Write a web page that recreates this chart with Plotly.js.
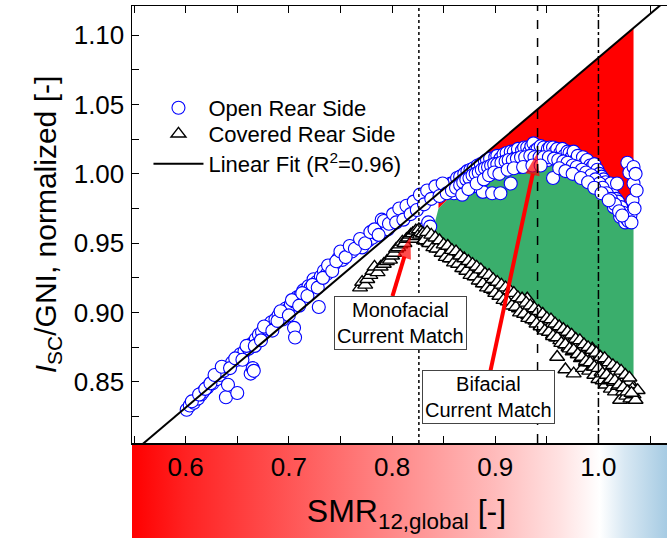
<!DOCTYPE html>
<html>
<head>
<meta charset="utf-8">
<script src="https://cdn.plot.ly/plotly-3.0.1.min.js"></script>
<style>
html,body{margin:0;padding:0;overflow:hidden;background:#fff;}
#chart{width:690px;height:538px;}
</style>
</head>
<body>
<div id="chart"></div>
<script>
// ---- data ----
const openRear = [
[0.601,0.830],[0.604,0.833],[0.608,0.835],[0.612,0.838],[0.615,0.841],[0.617,0.843],[0.621,0.846],[0.626,0.849],[0.630,0.852],[0.633,0.855],
[0.637,0.858],[0.639,0.839],[0.641,0.848],[0.645,0.864],[0.650,0.842],[0.650,0.866],[0.653,0.870],[0.657,0.872],[0.661,0.874],[0.663,0.856],
[0.665,0.860],[0.666,0.858],[0.665,0.878],[0.668,0.881],[0.671,0.884],[0.674,0.886],[0.678,0.889],[0.681,0.891],[0.683,0.893],[0.687,0.895],
[0.690,0.898],[0.694,0.895],[0.697,0.903],[0.699,0.902],[0.702,0.906],[0.705,0.889],[0.706,0.882],[0.705,0.908],[0.708,0.911],[0.711,0.912],
[0.714,0.916],[0.716,0.915],[0.719,0.919],[0.721,0.918],[0.724,0.924],[0.727,0.922],[0.729,0.904],[0.731,0.926],[0.734,0.930],[0.737,0.928],
[0.740,0.933],[0.744,0.935],[0.748,0.939],[0.752,0.938],[0.757,0.943],[0.761,0.944],[0.767,0.948],[0.771,0.947],[0.777,0.952],[0.781,0.954],
[0.785,0.957],[0.790,0.962],[0.790,0.967],[0.793,0.959],[0.796,0.960],[0.799,0.965],[0.802,0.967],[0.806,0.969],[0.809,0.972],[0.812,0.970],
[0.816,0.973],[0.819,0.975],[0.822,0.977],[0.825,0.980],[0.828,0.981],[0.830,0.960],[0.832,0.982],[0.835,0.965],[0.835,0.984],[0.837,0.962],
[0.840,0.986],[0.843,0.988],[0.847,0.988],[0.850,0.990],[0.854,0.991],[0.857,0.993],[0.860,0.986],[0.860,0.994],[0.863,0.997],[0.866,0.998],
[0.870,1.000],[0.873,1.002],[0.876,1.003],[0.879,0.991],[0.879,1.004],[0.883,1.006],[0.886,1.007],[0.888,0.987],[0.890,1.009],[0.892,1.010],
[0.895,1.011],[0.897,0.986],[0.900,1.012],[0.902,1.013],[0.905,0.986],[0.905,1.011],[0.908,1.003],[0.908,1.014],[0.911,1.015],[0.915,0.993],
[0.915,1.016],[0.918,1.016],[0.920,1.012],[0.922,1.018],[0.924,1.005],[0.926,1.017],[0.928,1.019],[0.931,1.008],[0.931,1.019],[0.933,1.016],
[0.935,1.020],[0.937,1.022],[0.939,1.017],[0.941,1.018],[0.944,1.020],[0.947,1.019],[0.949,1.014],[0.951,1.010],[0.951,1.018],[0.953,1.019],
[0.956,0.997],[0.956,1.019],[0.958,1.016],[0.960,1.018],[0.963,1.015],[0.965,1.018],[0.967,1.013],[0.970,1.008],[0.970,1.016],[0.972,1.015],
[0.974,1.012],[0.976,1.016],[0.978,1.010],[0.980,1.003],[0.980,1.013],[0.982,1.003],[0.985,1.012],[0.987,1.008],[0.989,1.010],[0.992,0.998],
[0.992,1.006],[0.994,1.005],[0.996,1.007],[0.999,1.003],[1.001,1.000],[1.002,0.993],[1.003,0.998],[1.005,0.996],[1.007,0.994],[1.009,0.988],
[1.011,0.991],[1.012,0.993],[1.014,0.985],[1.015,0.976],[1.017,0.982],[1.018,0.993],[1.019,0.980],[1.021,0.969],[1.022,0.976],[1.024,0.972],
[1.026,0.965],[1.027,0.968],[1.028,1.008],[1.029,0.966],[1.030,1.001],[1.031,0.970],[1.032,0.965],[1.033,0.981],[1.034,0.993],[1.034,1.005],
[1.035,0.975],[1.036,1.000],[1.037,0.988],
[0.606,0.836],[0.613,0.841],[0.619,0.845],[0.624,0.849],[0.628,0.855],[0.635,0.861],[0.643,0.860],[0.648,0.867],[0.655,0.866],[0.659,0.876],
[0.667,0.876],[0.673,0.880],[0.676,0.890],[0.684,0.887],[0.689,0.894],[0.692,0.901],[0.700,0.898],[0.703,0.909],[0.710,0.905],[0.713,0.914],
[0.718,0.912],[0.723,0.920],[0.728,0.918],[0.733,0.925],[0.738,0.934],[0.742,0.930],[0.746,0.937],[0.750,0.944],[0.755,0.940],[0.759,0.948],
[0.764,0.946],[0.769,0.953],[0.774,0.950],[0.779,0.958],[0.783,0.960],[0.787,0.956],[0.792,0.966],[0.797,0.964],[0.801,0.971],[0.804,0.965],
[0.807,0.975],[0.811,0.967],[0.814,0.977],[0.818,0.971],[0.821,0.980],[0.824,0.974],[0.827,0.985],[0.831,0.978],[0.834,0.988],[0.838,0.982],
[0.842,0.991],[0.846,0.984],[0.849,0.993],[0.853,0.986],
[0.858,0.988],[0.862,0.990],[0.866,0.992],[0.869,0.994],[0.872,0.996],[0.875,0.997],[0.878,0.999],[0.881,1.000],[0.884,1.001],[0.887,1.003],
[0.890,1.004],[0.893,1.005],[0.896,1.006],[0.899,1.007],[0.902,1.007],[0.906,1.008],[0.910,1.009],[0.913,1.010],[0.917,1.010],[0.921,1.011],
[0.925,1.012],[0.929,1.012],[0.934,1.013],[0.938,1.012],[0.943,1.012],[0.947,1.012],[0.952,1.012],[0.957,1.011],[0.961,1.010],[0.966,1.009],
[0.970,1.008],[0.975,1.006],[0.979,1.005],[0.984,1.003],[0.988,1.001],[0.993,0.999],[0.997,0.996],[1.001,0.993],[1.004,0.990],[1.008,0.986],
[1.012,0.982],[1.016,0.978],[1.020,0.973],[1.023,0.970],
[0.868,0.985],[0.874,0.989],[0.882,0.993],[0.889,0.996],[0.894,0.999],[0.899,1.001],[0.904,1.000],[0.912,1.003],[0.918,1.004],[0.927,1.005],
[0.936,1.006],[0.944,1.006],[0.962,1.004],[0.968,1.002],[0.975,1.000],[0.983,0.997],[0.990,0.994],[0.996,0.990],[1.003,0.986],[1.010,0.981]
];
const coveredRear = [
[0.769,0.918],[0.771,0.922],[0.774,0.920],[0.776,0.924],[0.779,0.927],[0.781,0.930],[0.783,0.933],[0.786,0.929],[0.789,0.933],[0.792,0.935],
[0.795,0.937],[0.798,0.938],[0.800,0.941],[0.802,0.943],[0.804,0.946],[0.806,0.947],[0.808,0.949],[0.810,0.951],[0.812,0.950],[0.814,0.953],
[0.816,0.954],[0.818,0.956],[0.820,0.957],[0.821,0.953],[0.823,0.959],[0.824,0.955],[0.826,0.960],[0.827,0.956],[0.828,0.958],
[0.830,0.957],[0.832,0.953],[0.833,0.956],[0.835,0.951],[0.836,0.955],[0.839,0.950],[0.840,0.953],[0.842,0.948],[0.845,0.950],[0.846,0.946],
[0.848,0.948],[0.851,0.943],[0.852,0.946],[0.854,0.942],[0.857,0.944],[0.858,0.939],[0.860,0.942],[0.863,0.937],[0.864,0.940],[0.866,0.935],
[0.869,0.937],[0.870,0.932],[0.872,0.935],[0.875,0.930],[0.876,0.933],[0.878,0.928],[0.881,0.930],[0.882,0.926],[0.884,0.929],[0.887,0.923],
[0.888,0.927],[0.890,0.921],[0.893,0.924],[0.894,0.919],[0.896,0.922],[0.899,0.916],[0.900,0.920],[0.902,0.914],[0.905,0.917],[0.906,0.912],
[0.908,0.915],[0.911,0.909],[0.912,0.913],[0.914,0.908],[0.917,0.911],[0.918,0.905],[0.920,0.908],[0.923,0.903],[0.924,0.907],[0.926,0.901],
[0.929,0.904],[0.931,0.910],[0.932,0.898],[0.934,0.901],[0.935,0.896],[0.938,0.899],[0.939,0.894],[0.941,0.897],[0.944,0.891],[0.945,0.895],
[0.947,0.889],[0.950,0.893],[0.951,0.887],[0.953,0.890],[0.956,0.884],[0.957,0.888],[0.959,0.882],[0.960,0.868],[0.962,0.886],[0.963,0.880],
[0.965,0.883],[0.968,0.859],[0.968,0.877],[0.969,0.881],[0.971,0.875],[0.974,0.879],[0.975,0.872],[0.976,0.856],[0.977,0.876],[0.980,0.870],
[0.981,0.874],[0.983,0.867],[0.985,0.860],[0.986,0.871],[0.988,0.864],[0.989,0.869],[0.991,0.858],[0.992,0.866],[0.994,0.874],[0.995,0.861],
[0.996,0.855],[0.998,0.864],[1.000,0.852],[1.001,0.860],[1.003,0.857],[1.004,0.851],[1.006,0.859],[1.007,0.848],[1.009,0.855],[1.010,0.851],
[1.012,0.845],[1.013,0.857],[1.015,0.850],[1.016,0.843],[1.018,0.853],[1.019,0.847],[1.021,0.837],[1.022,0.849],[1.024,0.843],[1.025,0.852],
[1.027,0.840],[1.028,0.846],[1.030,0.850],[1.031,0.838],[1.033,0.845],[1.034,0.841],[1.036,0.837],[1.038,0.844],
[0.831,0.952],[0.836,0.950],[0.840,0.947],[0.843,0.946],[0.848,0.943],[0.852,0.940],[0.856,0.939],[0.860,0.936],[0.864,0.935],[0.868,0.932],
[0.872,0.930],[0.876,0.927],[0.880,0.926],[0.884,0.923],[0.888,0.921],[0.892,0.918],[0.896,0.917],[0.900,0.914],[0.904,0.912],[0.908,0.909],
[0.912,0.908],[0.916,0.905],[0.920,0.904],[0.924,0.900],[0.928,0.899],[0.932,0.896],[0.936,0.895],[0.940,0.892],[0.944,0.890],[0.948,0.887],
[0.952,0.886],[0.956,0.883],[0.960,0.882],[0.964,0.878],[0.968,0.877],[0.972,0.874],[0.976,0.873],[0.980,0.870],[0.984,0.868],[0.988,0.865],
[0.992,0.864],[0.996,0.861],[1.000,0.860],[1.004,0.856],[1.008,0.855],[1.012,0.852],[1.016,0.851],[1.020,0.848],[1.024,0.846],[1.028,0.843],
[1.032,0.842],
[0.834,0.958],[0.838,0.956],[0.842,0.954],[0.846,0.952],[0.850,0.949],[0.854,0.948],[0.858,0.945],[0.862,0.944],[0.866,0.941],[0.870,0.939],
[0.874,0.937],[0.878,0.935],[0.882,0.933],[0.886,0.931],[0.890,0.928],[0.894,0.927],[0.898,0.924],[0.902,0.922],[0.906,0.920],[0.910,0.918],
[0.914,0.916],[0.918,0.914],[0.922,0.911],[0.926,0.910],[0.930,0.907],[0.934,0.905],[0.938,0.903],[0.942,0.901],[0.946,0.899],[0.950,0.896],
[0.954,0.895],[0.958,0.892],[0.962,0.890],[0.966,0.888],[0.970,0.886],[0.974,0.884],[0.978,0.881],[0.982,0.880],[0.986,0.877],[0.990,0.875],
[0.994,0.873],[0.998,0.871],[1.002,0.868],[1.006,0.867],[1.010,0.864],[1.014,0.862],[1.018,0.860],[1.022,0.858],[1.026,0.855],[1.030,0.853]
];
const fitX = [0.550, 1.075];
const fitY = [0.800, 1.131];
// filled regions: shared boundary between red (loss) and green (gain)
const boundaryX = [0.845, 0.860, 0.880, 0.900, 0.920, 0.940, 0.960, 0.980, 1.000, 1.010, 1.020, 1.034];
const boundaryY = [0.975, 0.986, 0.997, 1.004, 1.008, 1.010, 1.008, 1.003, 0.991, 0.982, 0.972, 0.965];
const redTopX = [0.845, 1.034];
const redTopY = [0.986, 1.105];
const greenBottomX = [1.034, 0.980, 0.930, 0.880, 0.838];
const greenBottomY = [0.848, 0.877, 0.904, 0.932, 0.955];
const matchLines = [0.826, 0.941, 1.000];   // monofacial, bifacial, SMR=1
const matchDash = ['dot', 'dash', 'dashdot'];
const monoArrowX = [0.8004, 0.8178], monoArrowY = [0.9119, 0.9547];
const biArrowX = [0.8953, 0.9406], biArrowY = [0.8578, 1.0148];
const monoBox = [0.8081, 0.8924], biBox = [0.8934, 0.8391];
const xTicks = [0.6, 0.7, 0.8, 0.9, 1.0];
const yTicks = [0.85, 0.90, 0.95, 1.00, 1.05, 1.10];

const FONT = 'Liberation Sans, Arial, sans-serif';

const redX = redTopX.concat(boundaryX.slice().reverse());
const redY = redTopY.concat(boundaryY.slice().reverse());
const greenX = boundaryX.concat(greenBottomX);
const greenY = boundaryY.concat(greenBottomY);

const arrowTrace = (xs, ys) => ({
  x: xs, y: ys, type: 'scatter', mode: 'lines+markers', showlegend: false, hoverinfo: 'skip',
  line: {color: '#ff0000', width: 4},
  marker: {symbol: 'arrow', size: [0, 23], angleref: 'previous', color: '#ff0000', line: {width: 0}}
});

const traces = [
  {x: redX, y: redY, type: 'scatter', mode: 'lines', fill: 'toself', fillcolor: '#ff0000',
   line: {width: 0, color: '#ff0000'}, showlegend: false, hoverinfo: 'skip'},
  {x: greenX, y: greenY, type: 'scatter', mode: 'lines', fill: 'toself', fillcolor: '#3aae6c',
   line: {width: 0, color: '#3aae6c'}, showlegend: false, hoverinfo: 'skip'},
  {x: openRear.map(p => p[0]), y: openRear.map(p => p[1]), type: 'scatter', mode: 'markers',
   name: 'Open Rear Side', legend: 'legend',
   marker: {symbol: 'circle', size: 13, color: '#ffffff', line: {color: '#0000ff', width: 1.1}}},
  {x: coveredRear.map(p => p[0]), y: coveredRear.map(p => p[1]), type: 'scatter', mode: 'markers',
   name: 'Covered Rear Side', legend: 'legend2',
   marker: {symbol: 'triangle-up', size: 13, color: '#ffffff', line: {color: '#000000', width: 1.4}}},
  {x: fitX, y: fitY, type: 'scatter', mode: 'lines', name: 'Linear Fit (R<sup>2</sup>=0.96)', legend: 'legend3',
   line: {color: '#000000', width: 2}},
  arrowTrace(monoArrowX, monoArrowY),
  arrowTrace(biArrowX, biArrowY)
];

// gradient colour band behind the x-axis labels
const stops = [
  [0.000, '#ff0000'], [0.089, '#ff2222'], [0.260, '#ff5555'], [0.430, '#ff8888'],
  [0.601, '#ffbbbb'], [0.709, '#ffe2e2'], [0.775, '#ffffff'], [0.816, '#d8e8f3'],
  [0.886, '#a6cbe3'], [1.000, '#8fbcdc']
];
const svg = '<svg xmlns="http://www.w3.org/2000/svg" width="604" height="95" viewBox="0 0 604 95" preserveAspectRatio="none">' +
  '<defs><linearGradient id="g" x1="0" x2="1" y1="0" y2="0">' +
  stops.map(s => '<stop offset="' + s[0] + '" stop-color="' + s[1] + '"/>').join('') +
  '</linearGradient></defs><rect x="0" y="0" width="604" height="95" fill="url(#g)"/></svg>';
const gradSrc = 'data:image/svg+xml;charset=utf-8,' + encodeURIComponent(svg);

const shapes = matchLines.map((v, i) => ({
  type: 'line', xref: 'x', yref: 'paper', x0: v, x1: v, y0: 0, y1: 1,
  line: {color: '#000000', width: 1.5, dash: matchDash[i]}, layer: 'above'
}));

const annFont = {family: FONT, size: 20, color: '#000'};
const annotations = [
  {x: monoBox[0], y: monoBox[1], xref: 'x', yref: 'y', showarrow: false,
   text: 'Monofacial<br>Current Match', font: annFont, bgcolor: '#ffffff',
   bordercolor: '#444', borderwidth: 1, borderpad: 2},
  {x: biBox[0], y: biBox[1], xref: 'x', yref: 'y', showarrow: false,
   text: 'Bifacial<br>Current Match', font: annFont, bgcolor: '#ffffff',
   bordercolor: '#444', borderwidth: 1, borderpad: 2}
];

const legBase = {x: 0.03, xanchor: 'left', yanchor: 'top', bgcolor: 'rgba(0,0,0,0)',
  borderwidth: 0, font: {family: FONT, size: 22, color: '#000'}, itemwidth: 50};

const layout = {
  width: 690, height: 538,
  margin: {l: 132, r: 9, t: 6, b: 95},
  paper_bgcolor: '#ffffff', plot_bgcolor: 'rgba(0,0,0,0)',
  font: {family: FONT, color: '#000'},
  showlegend: true,
  legend: Object.assign({}, legBase, {y: 0.8146}),
  legend2: Object.assign({}, legBase, {y: 0.7551}),
  legend3: Object.assign({}, legBase, {y: 0.6865}),
  xaxis: {range: [0.548, 1.080], tickvals: xTicks, tickformat: '.1f',
          ticks: 'inside', ticklen: 7, tickwidth: 1, tickcolor: '#000',
          minor: {dtick: 0.05, tick0: 0.55, ticks: 'inside', ticklen: 7, tickcolor: '#000', showgrid: false},
          showline: true, linecolor: '#000', linewidth: 1.5, mirror: 'ticks',
          showgrid: false, zeroline: false, ticklabelstandoff: 0,
          tickfont: {family: FONT, size: 26, color: '#000'},
          title: {text: 'SMR<sub>12,global</sub> [-]', font: {family: FONT, size: 32, color: '#000'}, standoff: 19}},
  yaxis: {range: [0.806, 1.121], tickvals: yTicks, tickformat: '.2f',
          ticks: 'inside', ticklen: 7, tickwidth: 1, tickcolor: '#000',
          minor: {dtick: 0.025, tick0: 0.8, ticks: 'inside', ticklen: 7, tickcolor: '#000', showgrid: false},
          showline: true, linecolor: '#000', linewidth: 1.5, mirror: 'ticks',
          showgrid: false, zeroline: false, ticklabelstandoff: 1,
          tickfont: {family: FONT, size: 26, color: '#000'},
          title: {text: '<i>I</i><sub>SC</sub>/GNI, normalized [-]', font: {family: FONT, size: 30, color: '#000'}, standoff: 8}},
  shapes: shapes,
  annotations: annotations,
  images: [{source: gradSrc, xref: 'paper', yref: 'paper', x: 0, y: 0, xanchor: 'left', yanchor: 'top',
            sizex: 1.1, sizey: 0.2174, sizing: 'stretch', layer: 'below'}]
};

Plotly.newPlot('chart', traces, layout, {staticPlot: true, displayModeBar: false});
</script>
</body>
</html>
